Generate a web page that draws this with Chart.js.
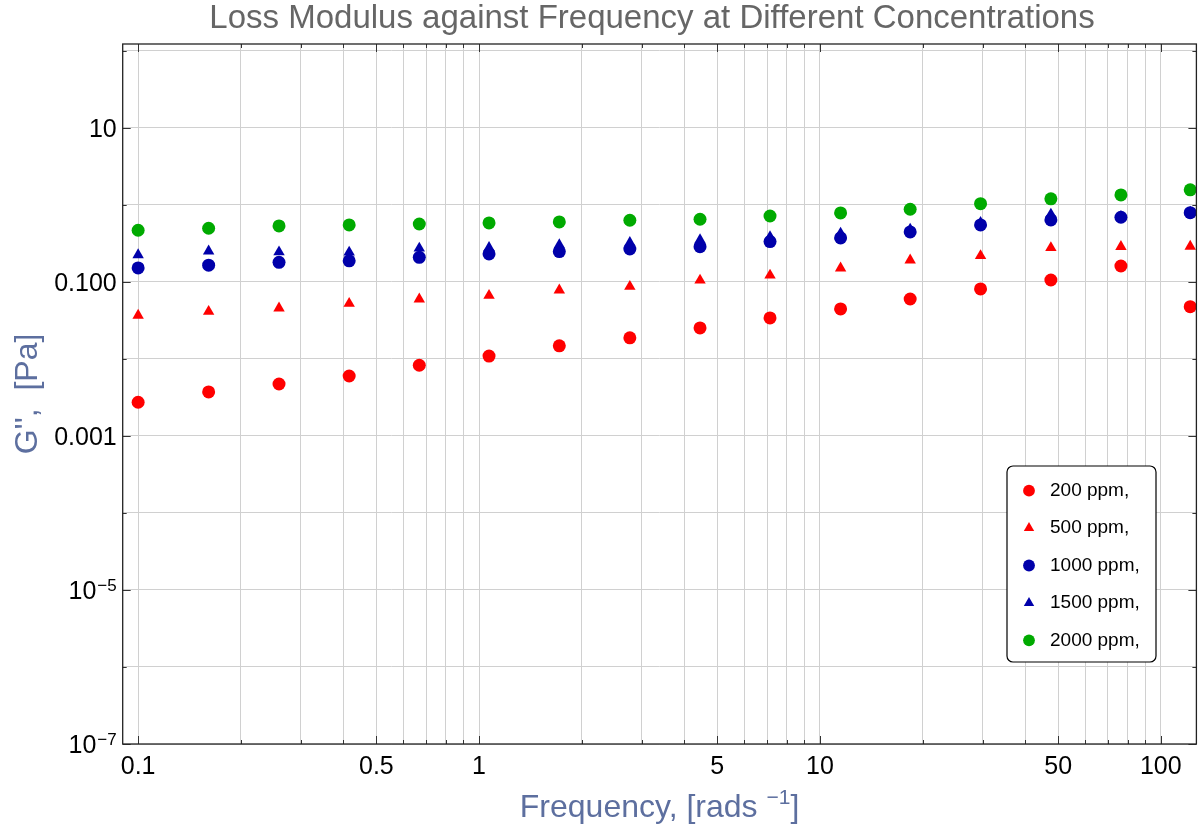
<!DOCTYPE html>
<html>
<head>
<meta charset="utf-8">
<script src="https://cdn.jsdelivr.net/npm/chart.js@4.4.1/dist/chart.umd.min.js"></script>
<style>
    html, body { margin: 0; padding: 0; background: #fff; }
</style>
</head>
<body>
<canvas id="chart" width="1203" height="829"></canvas>
<script>
// frequency in rad/s, G'' in Pa
var frequency = [0.1, 0.161, 0.259, 0.416, 0.668, 1.07, 1.72, 2.77, 4.45, 7.14, 11.5, 18.4, 29.6, 47.6, 76.4, 122];
var g200 = [0.00274, 0.00373, 0.00473, 0.00601, 0.00828, 0.0109, 0.0148, 0.0188, 0.0253, 0.0341, 0.0446, 0.0601, 0.0811, 0.106, 0.161, 0.0478];
var g500 = [0.0367, 0.0413, 0.0456, 0.0525, 0.0597, 0.0667, 0.0781, 0.0873, 0.105, 0.122, 0.151, 0.192, 0.219, 0.278, 0.287, 0.289];
var g1000 = [0.152, 0.165, 0.180, 0.188, 0.209, 0.231, 0.248, 0.268, 0.287, 0.334, 0.373, 0.446, 0.550, 0.638, 0.692, 0.794];
var g1500 = [0.225, 0.251, 0.245, 0.243, 0.274, 0.279, 0.303, 0.324, 0.351, 0.384, 0.429, 0.483, 0.589, 0.757, 0.705, 0.80];
var g2000 = [0.469, 0.498, 0.534, 0.550, 0.566, 0.584, 0.601, 0.633, 0.652, 0.719, 0.787, 0.879, 1.04, 1.20, 1.35, 1.57];

var seriesNames = ['200 ppm,', '500 ppm,', '1000 ppm,', '1500 ppm,', '2000 ppm,'];

var xLabelValues = [0.1, 0.5, 1, 5, 10, 50, 100];
var yLabelValues = [10, 0.1, 0.001, 1e-5, 1e-7];
// [base, exponent]
var yLabelTexts = [['10', ''], ['0.100', ''], ['0.001', ''], ['10', '\u22125'], ['10', '\u22127']];

var FONT = '"Liberation Sans", Arial, sans-serif';
var AXIS_BLUE = '#5d6f9f';

// 1..9 steps in every decade, used for grid lines and frame ticks
function decadeSteps(from, to) {
    var out = [];
    for (var d = from; d <= to * 1.0001; d *= 10) {
        for (var k = 1; k <= 9; k++) {
            if (k * d <= to * 1.0001) out.push(k * d);
        }
    }
    return out;
}
function decades(from, to) {
    var out = [];
    for (var e = from; e <= to; e++) out.push(Math.pow(10, e));
    return out;
}
var xGridValues = decadeSteps(0.1, 100);
var yGridValues = decades(-7, 2);

function isLabeled(v, list) {
    for (var i = 0; i < list.length; i++) {
        if (Math.abs(v - list[i]) / list[i] < 1e-6) return i;
    }
    return -1;
}

function points(ys) {
    return frequency.map(function(f, i) { return { x: f, y: ys[i] }; });
}

function dataset(label, ys, color, style) {
    return {
        label: label,
        data: points(ys),
        backgroundColor: color,
        borderWidth: 0,
        pointStyle: style,
        pointRadius: style === 'triangle' ? 6.6 : 6.5,
        showLine: false
    };
}

var texts = {
    id: 'texts',
    afterDraw: function(chart) {
        var ctx = chart.ctx, a = chart.chartArea;
        var ys = chart.scales.y;
        ctx.save();

        // plot title
        ctx.font = '33px ' + FONT;
        ctx.fillStyle = '#666666';
        ctx.textAlign = 'center';
        ctx.textBaseline = 'middle';
        ctx.fillText('Loss Modulus against Frequency at Different Concentrations', 652, 19);

        // y tick labels, with superscript exponents
        ctx.fillStyle = '#000';
        ctx.textBaseline = 'alphabetic';
        ctx.textAlign = 'left';
        yLabelValues.forEach(function(v, i) {
            var base = yLabelTexts[i][0], exp = yLabelTexts[i][1];
            var py = ys.getPixelForValue(v);
            ctx.font = '25px ' + FONT;
            var bw = ctx.measureText(base).width;
            ctx.font = '17px ' + FONT;
            var ew = exp ? ctx.measureText(exp).width + 1 : 0;
            var x0 = a.left - 6 - bw - ew;
            ctx.font = '25px ' + FONT;
            ctx.fillText(base, x0, py + 9);
            if (exp) {
                ctx.font = '17px ' + FONT;
                ctx.fillText(exp, x0 + bw + 1, py + 1);
            }
        });

        // x axis title
        ctx.fillStyle = AXIS_BLUE;
        var t1 = 'Frequency, [rads ', t2 = '\u22121', t3 = ']';
        ctx.font = '32px ' + FONT;
        var w1 = ctx.measureText(t1).width, w3 = ctx.measureText(t3).width;
        ctx.font = '21px ' + FONT;
        var w2 = ctx.measureText(t2).width;
        var xs0 = (a.left + a.right) / 2 - (w1 + w2 + w3) / 2;
        ctx.font = '32px ' + FONT;
        ctx.fillText(t1, xs0, 817);
        ctx.fillText(t3, xs0 + w1 + w2, 817);
        ctx.font = '21px ' + FONT;
        ctx.fillText(t2, xs0 + w1, 804);
        ctx.restore();
    }
};

var frame = {
    id: 'frame',
    afterDraw: function(chart) {
        var ctx = chart.ctx, a = chart.chartArea;
        var xs = chart.scales.x, ys = chart.scales.y;
        ctx.save();
        ctx.strokeStyle = '#333';
        ctx.lineWidth = 1;
        ctx.beginPath();
        xGridValues.forEach(function(v) {
            var px = Math.round(xs.getPixelForValue(v)) + 0.5;
            var len = isLabeled(v, xLabelValues) >= 0 ? 8 : 4;
            ctx.moveTo(px, a.bottom); ctx.lineTo(px, a.bottom - len);
            ctx.moveTo(px, a.top); ctx.lineTo(px, a.top + len);
        });
        yGridValues.forEach(function(v) {
            var py = Math.round(ys.getPixelForValue(v)) + 0.5;
            var len = isLabeled(v, yLabelValues) >= 0 ? 8 : 4;
            ctx.moveTo(a.left, py); ctx.lineTo(a.left + len, py);
            ctx.moveTo(a.right, py); ctx.lineTo(a.right - len, py);
        });
        ctx.stroke();
        ctx.lineWidth = 1.3;
        ctx.strokeStyle = '#222';
        ctx.strokeRect(a.left, a.top, a.right - a.left, a.bottom - a.top);
        ctx.restore();
    }
};

var boxLegend = {
    id: 'boxLegend',
    afterDraw: function(chart) {
        var ctx = chart.ctx;
        var left = 1007, top = 466, w = 149, h = 196, r = 6;
        ctx.save();
        ctx.beginPath();
        ctx.moveTo(left + r, top);
        ctx.arcTo(left + w, top, left + w, top + h, r);
        ctx.arcTo(left + w, top + h, left, top + h, r);
        ctx.arcTo(left, top + h, left, top, r);
        ctx.arcTo(left, top, left + w, top, r);
        ctx.closePath();
        ctx.fillStyle = '#fff';
        ctx.fill();
        ctx.strokeStyle = '#000';
        ctx.lineWidth = 1.2;
        ctx.stroke();

        chart.data.datasets.forEach(function(ds, i) {
            var y = 490.7 + i * 37.4;
            ctx.fillStyle = ds.backgroundColor;
            Chart.helpers.drawPoint(ctx, {
                pointStyle: ds.pointStyle,
                radius: ds.pointStyle === 'triangle' ? 6 : 5.9,
                rotation: 0,
                borderWidth: 0
            }, 1029, y);
            ctx.fillStyle = '#000';
            ctx.font = '19px ' + FONT;
            ctx.textAlign = 'left';
            ctx.textBaseline = 'middle';
            ctx.fillText(ds.label, 1050, y);
        });
        ctx.restore();
    }
};

new Chart(document.getElementById('chart'), {
    type: 'scatter',
    data: {
        datasets: [
            dataset(seriesNames[0], g200, 'rgb(255,0,0)', 'circle'),
            dataset(seriesNames[1], g500, 'rgb(255,0,0)', 'triangle'),
            dataset(seriesNames[2], g1000, 'rgb(0,0,170)', 'circle'),
            dataset(seriesNames[3], g1500, 'rgb(0,0,170)', 'triangle'),
            dataset(seriesNames[4], g2000, 'rgb(0,170,0)', 'circle')
        ]
    },
    options: {
        responsive: false,
        animation: false,
        layout: { padding: { top: 44, right: 1.5, left: 0, bottom: 0 } },
        plugins: {
            legend: { display: false },
            tooltip: { enabled: false },
            title: { display: false }
        },
        scales: {
            x: {
                type: 'logarithmic',
                min: 0.0901,
                max: 127.2,
                afterBuildTicks: function(scale) {
                    scale.ticks = xGridValues.map(function(v) { return { value: v }; });
                },
                afterFit: function(scale) { scale.height = 85; },
                grid: { color: '#d0d0d0', drawTicks: false },
                border: { display: false },
                ticks: {
                    autoSkip: false,
                    maxRotation: 0,
                    padding: 8,
                    color: '#000',
                    font: { family: FONT, size: 25 },
                    callback: function(value) {
                        var i = isLabeled(value, xLabelValues);
                        return i >= 0 ? String(xLabelValues[i]) : '';
                    }
                }
            },
            y: {
                type: 'logarithmic',
                min: 1e-7,
                max: 123,
                afterBuildTicks: function(scale) {
                    scale.ticks = yGridValues.map(function(v) { return { value: v }; });
                },
                afterFit: function(scale) { scale.width = 122.7; },
                grid: { color: '#d0d0d0', drawTicks: false },
                border: { display: false },
                ticks: {
                    autoSkip: false,
                    padding: 6,
                    // labels are drawn by the texts plugin (needs superscripts)
                    callback: function() { return ''; }
                },
                title: {
                    display: true,
                    text: "G'',  [Pa]",
                    color: AXIS_BLUE,
                    font: { family: FONT, size: 32 },
                    padding: { top: 9, bottom: 0 }
                }
            }
        }
    },
    plugins: [texts, frame, boxLegend]
});
</script>
</body>
</html>
